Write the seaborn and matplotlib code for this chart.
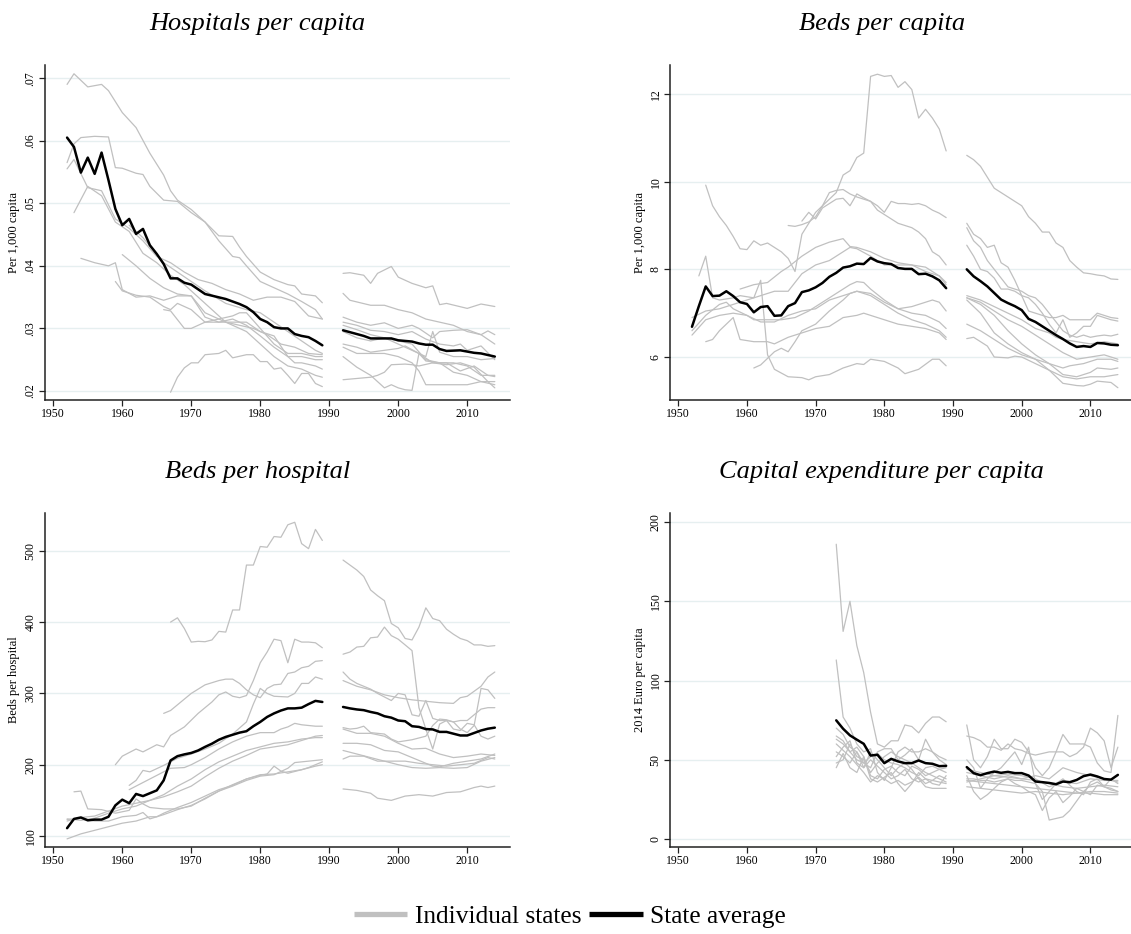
import numpy as np
import pandas as pd
import matplotlib
matplotlib.use("Agg")
import matplotlib.pyplot as plt
from matplotlib.lines import Line2D
import seaborn as sns

# ---------------- DATA ----------------
TITLES = ["Hospitals per capita", "Beds per capita", "Beds per hospital", "Capital expenditure per capita"]
YLABELS = ["Per 1,000 capita", "Per 1,000 capita", "Beds per hospital", "2014 Euro per capita"]
XTICKS = [1950, 1960, 1970, 1980, 1990, 2000, 2010]
YTICKS_HPC = [0.02, 0.03, 0.04, 0.05, 0.06, 0.07]
YTICKLABELS_HPC = [".02", ".03", ".04", ".05", ".06", ".07"]
YTICKS_BPC = [6, 8, 10, 12]
YTICKS_BPH = [100, 200, 300, 400, 500]
YTICKS_CAP = [0, 50, 100, 150, 200]

# Panel 1: Hospitals per capita -- state average
HPC_AVG_Y1 = [1952,1953,1954,1955,1956,1957,1958,1959,1960,1961,1962,1963,1964,1965,1966,1967,1968,1969,1970,1972,1975,1977,1978,1979,1980,1981,1982,1983,1984,1985,1986,1987,1988,1989]
HPC_AVG_V1 = [.0605,.059,.0549,.0573,.0547,.0581,.0537,.0491,.0465,.0475,.0451,.0459,.0433,.0419,.0403,.038,.038,.0373,.037,.0355,.0347,.0339,.0334,.0326,.0315,.031,.0302,.030,.030,.0291,.0288,.0286,.028,.0273]
HPC_AVG_Y2 = [1992,1995,1996,1999,2000,2002,2003,2004,2005,2006,2007,2009,2010,2011,2012,2014]
HPC_AVG_V2 = [.0297,.0288,.0284,.0284,.0281,.0279,.0276,.0274,.0274,.0267,.0264,.0265,.0263,.0261,.026,.0255]

# Panel 1: individual states (years, values)
HPC_STATES = [
    ([1952,1953,1955,1957,1958,1960,1962,1964,1966,1967,1968,1970,1972,1974,1976,1977,1978,1980,1982,1984,1985,1986,1988,1989],
     [.069,.0707,.0686,.069,.068,.0645,.0621,.058,.0545,.052,.0505,.049,.047,.0448,.0447,.043,.0415,.039,.0378,.037,.0368,.0355,.0352,.0341]),
    ([1952,1953,1954,1956,1958,1959,1960,1962,1963,1964,1966,1968,1970,1972,1974,1976,1977,1978,1980,1982,1984,1986,1988,1989],
     [.0565,.0595,.0605,.0607,.0606,.0557,.0556,.0548,.0546,.0527,.0505,.0503,.0485,.047,.044,.0415,.0413,.040,.0375,.0365,.0355,.0343,.033,.0315]),
    ([1952,1953,1955,1957,1959,1961,1963,1965,1967,1969,1971,1973,1975,1977,1979,1981,1983,1985,1987,1989],
     [.0555,.057,.0525,.052,.0475,.046,.044,.0415,.0405,.039,.0378,.0372,.0362,.0355,.0345,.035,.035,.0343,.032,.0315]),
    ([1953,1955,1957,1959,1961,1963,1965,1967,1969,1971,1973,1975,1977,1979,1981,1983,1985,1987,1989],
     [.0485,.0527,.0512,.047,.0455,.042,.0405,.0385,.037,.035,.033,.031,.0305,.030,.029,.0275,.027,.026,.0258]),
    ([1954,1956,1958,1959,1960,1962,1964,1966,1968,1970,1972,1974,1976,1978,1980,1982,1984,1986,1988,1989],
     [.0412,.0405,.040,.0405,.0362,.035,.0352,.0345,.0352,.0352,.0318,.031,.031,.031,.0295,.0288,.0255,.0255,.025,.025]),
    ([1959,1960,1962,1964,1966,1967,1968,1970,1972,1974,1976,1977,1978,1980,1982,1984,1986,1988,1989],
     [.0375,.036,.0353,.035,.0335,.033,.034,.033,.031,.0315,.032,.0325,.0325,.030,.0275,.026,.026,.0255,.0255]),
    ([1960,1962,1964,1966,1968,1970,1972,1974,1976,1978,1980,1982,1984,1986,1988,1989],
     [.0418,.040,.038,.0365,.0355,.0352,.0325,.0315,.0305,.0295,.0275,.0255,.024,.0235,.0225,.0222]),
    ([1966,1967,1969,1970,1972,1974,1976,1978,1980,1982,1984,1985,1986,1988,1989],
     [.033,.0328,.030,.030,.031,.031,.0315,.0305,.0288,.027,.0255,.0245,.0245,.024,.0235]),
    ([1967,1968,1969,1970,1971,1972,1974,1975,1976,1978,1979,1980,1981,1982,1983,1984,1985,1986,1987,1988,1989],
     [.0198,.0222,.0237,.0245,.0245,.0258,.026,.0265,.0253,.0258,.0258,.0247,.0247,.0235,.0237,.0225,.0212,.0228,.0228,.0212,.0207]),
    ([1961,1963,1966,1968,1970,1972,1975,1978,1980,1982,1984,1986,1988,1989],
     [.0465,.0445,.0405,.039,.0375,.036,.034,.033,.0325,.031,.0295,.028,.0265,.026]),
    ([1992,1993,1995,1996,1997,1999,2000,2002,2004,2005,2006,2007,2010,2012,2014],
     [.0388,.0389,.0385,.0372,.0388,.0399,.0382,.0372,.0365,.0368,.0338,.034,.0332,.0339,.0335]),
    ([1992,1993,1996,1998,2000,2002,2004,2006,2008,2010,2012,2014],
     [.0356,.0345,.0337,.0337,.033,.0325,.0315,.031,.0305,.0295,.029,.0275]),
    ([1992,1994,1996,1998,2000,2002,2003,2005,2006,2008,2010,2012,2013,2014],
     [.0318,.031,.0305,.0309,.030,.0305,.030,.0285,.0295,.0297,.0298,.029,.0296,.029]),
    ([1992,1994,1996,1998,2000,2002,2004,2006,2008,2009,2010,2012,2014],
     [.031,.0305,.0297,.0295,.029,.0295,.0283,.0275,.0272,.0275,.0265,.0272,.025]),
    ([1992,1994,1996,1998,2000,2002,2003,2004,2005,2006,2008,2010,2012,2014],
     [.0305,.0298,.029,.0285,.0275,.0265,.026,.0255,.0295,.0262,.0255,.0255,.025,.0252]),
    ([1992,1994,1996,1998,2000,2002,2004,2006,2008,2010,2012,2014],
     [.0295,.0285,.028,.0285,.028,.0275,.025,.0245,.0245,.024,.0225,.0225]),
    ([1992,1994,1996,1998,2000,2001,2003,2005,2007,2009,2011,2013,2014],
     [.0275,.027,.0262,.0265,.0268,.0272,.026,.0245,.0242,.0245,.0238,.0215,.0205]),
    ([1992,1994,1996,1998,2000,2002,2003,2004,2006,2008,2010,2012,2014],
     [.027,.026,.026,.026,.0255,.0245,.0232,.021,.021,.021,.021,.0215,.0215]),
    ([1992,1994,1996,1998,1999,2000,2001,2002,2003,2004,2006,2008,2010,2012,2014],
     [.0255,.0238,.0225,.0205,.021,.0205,.0202,.0201,.026,.0248,.0245,.023,.0225,.0215,.021]),
    ([1992,1994,1996,1997,1998,1999,2001,2002,2003,2005,2007,2009,2011,2013,2014],
     [.0218,.022,.0222,.0225,.023,.0242,.0243,.0242,.024,.0245,.0245,.0232,.024,.0225,.0223]),
]

# Panel 2: Beds per capita
BPC_AVG_Y1 = list(range(1952, 1990))
BPC_AVG_V1 = [6.69,7.16,7.61,7.39,7.40,7.50,7.39,7.25,7.21,7.02,7.14,7.16,6.94,6.95,7.16,7.23,7.48,7.52,7.59,7.69,7.83,7.92,8.04,8.07,8.13,8.12,8.26,8.18,8.14,8.12,8.03,8.01,8.01,7.89,7.90,7.84,7.75,7.57]
BPC_AVG_Y2 = list(range(1992, 2015))
BPC_AVG_V2 = [8.0,7.84,7.73,7.61,7.46,7.31,7.23,7.16,7.07,6.87,6.80,6.70,6.60,6.50,6.41,6.31,6.23,6.25,6.23,6.32,6.31,6.28,6.27]
BPC_STATES = [
    ([1966,1967,1968,1969,1970,1971,1972,1973,1974,1975,1976,1977,1978,1979,1980,1981,1982,1983,1984,1985,1986,1987,1988,1989],
     [9.0,8.98,9.02,9.08,9.2,9.45,9.6,9.75,10.15,10.25,10.55,10.65,12.4,12.45,12.4,12.42,12.15,12.28,12.1,11.45,11.65,11.45,11.2,10.7]),
    ([1954,1955,1956,1957,1958,1959,1960,1961,1962,1963,1964,1965,1966,1967,1968,1969,1970,1971,1972,1973,1974,1975,1976,1977,1978,1979,1980,1981,1982,1983,1984,1985,1986,1987,1988,1989],
     [9.92,9.45,9.2,9.0,8.75,8.47,8.45,8.65,8.55,8.6,8.5,8.4,8.25,7.95,8.8,9.05,9.3,9.45,9.75,9.8,9.82,9.72,9.65,9.6,9.55,9.35,9.25,9.15,9.05,9.0,8.95,8.85,8.7,8.4,8.3,8.1]),
    ([1968,1969,1970,1971,1972,1973,1974,1975,1976,1977,1978,1979,1980,1981,1982,1983,1984,1985,1986,1987,1988,1989],
     [9.1,9.3,9.15,9.4,9.5,9.6,9.62,9.45,9.72,9.63,9.55,9.45,9.3,9.55,9.5,9.5,9.48,9.5,9.45,9.35,9.28,9.18]),
    ([1959,1961,1963,1965,1966,1968,1970,1972,1974,1975,1976,1978,1980,1982,1984,1986,1988,1989],
     [7.55,7.65,7.7,7.95,8.05,8.3,8.5,8.62,8.7,8.52,8.5,8.4,8.25,8.15,8.1,8.05,7.85,7.65]),
    ([1953,1954,1955,1956,1958,1959,1961,1962,1963,1964,1966,1968,1969,1970,1972,1974,1976,1977,1978,1980,1982,1983,1985,1987,1988,1989],
     [7.85,8.3,7.35,7.3,7.35,7.4,7.35,7.75,6.05,5.72,5.55,5.53,5.48,5.55,5.6,5.75,5.85,5.83,5.95,5.9,5.75,5.62,5.72,5.95,5.95,5.8]),
    ([1961,1962,1964,1965,1966,1967,1968,1970,1972,1974,1975,1976,1978,1980,1982,1984,1986,1987,1988,1989],
     [5.75,5.82,6.12,6.2,6.12,6.35,6.6,6.75,7.05,7.3,7.45,7.5,7.45,7.25,7.1,7.15,7.25,7.3,7.25,7.05]),
    ([1952,1954,1956,1958,1960,1961,1963,1965,1967,1969,1971,1973,1975,1976,1977,1978,1980,1982,1984,1986,1988,1989],
     [6.5,6.85,6.95,7.0,6.95,6.85,6.85,6.85,6.9,7.05,7.25,7.45,7.65,7.72,7.7,7.55,7.3,7.1,7.0,6.95,6.8,6.65]),
    ([1952,1954,1956,1957,1958,1960,1962,1964,1966,1968,1970,1972,1974,1976,1978,1980,1982,1984,1986,1988,1989],
     [6.6,6.95,7.2,7.25,7.1,6.95,6.8,6.8,6.95,7.05,7.1,7.3,7.4,7.5,7.4,7.2,7.0,6.85,6.75,6.6,6.45]),
    ([1954,1955,1956,1958,1959,1961,1963,1964,1966,1968,1970,1972,1974,1976,1977,1978,1980,1982,1984,1986,1988,1989],
     [6.35,6.4,6.6,6.9,6.4,6.35,6.35,6.3,6.45,6.55,6.65,6.7,6.9,6.95,7.0,6.95,6.85,6.75,6.7,6.65,6.55,6.4]),
    ([1952,1954,1956,1958,1960,1962,1964,1966,1968,1970,1972,1974,1975,1976,1978,1979,1980,1982,1984,1986,1988,1989],
     [6.9,7.05,7.1,7.2,7.3,7.4,7.5,7.5,7.9,8.1,8.2,8.4,8.5,8.47,8.3,8.2,8.1,8.1,8.1,7.95,7.85,7.7]),
    ([1992,1993,1994,1995,1996,1997,1998,1999,2000,2001,2002,2003,2004,2005,2006,2007,2008,2009,2010,2011,2012,2013,2014],
     [10.6,10.5,10.35,10.1,9.85,9.75,9.65,9.55,9.45,9.2,9.05,8.85,8.85,8.6,8.5,8.2,8.05,7.92,7.9,7.87,7.85,7.78,7.77]),
    ([1992,1993,1994,1995,1996,1997,1998,1999,2000,2001,2002,2003,2004,2005,2006,2007,2008,2009,2010,2011,2012,2013,2014],
     [9.05,8.8,8.7,8.5,8.55,8.15,8.05,7.75,7.4,7.05,7.0,6.95,6.9,6.9,6.95,6.85,6.85,6.85,6.85,7.0,6.95,6.9,6.88]),
    ([1992,1993,1994,1995,1996,1997,1998,1999,2000,2001,2002,2003,2004,2005,2006,2007,2008,2009,2010,2011,2012,2013,2014],
     [8.55,8.3,8.0,7.95,7.8,7.55,7.55,7.5,7.4,7.35,7.2,7.0,6.75,6.55,6.85,6.45,6.55,6.7,6.7,6.95,6.9,6.85,6.82]),
    ([1992,1993,1994,1995,1996,1997,1998,1999,2000,2001,2002,2003,2004,2005,2006,2007,2008,2009,2010,2011,2012,2013,2014],
     [8.95,8.65,8.5,8.2,8.0,7.8,7.6,7.55,7.5,7.4,7.35,7.2,7.0,6.8,6.6,6.5,6.45,6.5,6.45,6.48,6.5,6.48,6.52]),
    ([1992,1994,1996,1998,2000,2002,2004,2005,2006,2008,2010,2012,2014],
     [7.4,7.3,7.15,7.0,6.85,6.65,6.55,6.45,6.4,6.35,6.3,6.35,6.3]),
    ([1992,1994,1996,1998,2000,2002,2004,2006,2008,2010,2012,2014],
     [7.35,7.25,7.05,6.85,6.7,6.5,6.3,6.1,5.95,6.0,6.05,5.95]),
    ([1992,1994,1996,1998,2000,2002,2004,2006,2007,2009,2011,2013,2014],
     [7.3,7.0,6.55,6.3,6.1,5.95,5.85,5.75,5.8,5.85,5.95,5.95,5.9]),
    ([1992,1994,1996,1998,2000,2002,2004,2006,2008,2009,2010,2011,2013,2014],
     [6.75,6.6,6.4,6.2,6.05,5.95,5.7,5.4,5.35,5.34,5.38,5.45,5.42,5.3]),
    ([1992,1993,1995,1996,1998,1999,2000,2002,2004,2006,2008,2010,2012,2014],
     [6.42,6.45,6.25,6.0,5.98,6.02,6.0,5.85,5.7,5.55,5.5,5.55,5.55,5.6]),
    ([1992,1994,1996,1998,2000,2002,2004,2006,2008,2010,2011,2013,2014],
     [7.35,7.2,6.95,6.6,6.3,6.05,5.85,5.6,5.55,5.65,5.75,5.72,5.75]),
]

# Panel 3: Beds per hospital
BPH_AVG_Y1 = list(range(1952, 1990))
BPH_AVG_V1 = [111,124,126,122,123,123,127,143,151,146,159,156,160,164,178,206,212,214.5,216.5,220,225,229.5,235,239,242,245,247,254,260,267,272,276,279,279,280,285,289.5,288]
BPH_AVG_Y2 = list(range(1992, 2015))
BPH_AVG_V2 = [281,279,277.5,276.5,274,272,268,266,262,261,254,253,250,249.5,246,246,243.5,241,241,244.5,248,250.5,252]
BPH_STATES = [
    ([1967,1968,1969,1970,1971,1972,1973,1974,1975,1976,1977,1978,1979,1980,1981,1982,1983,1984,1985,1986,1987,1988,1989],
     [400,406,391,372,373,372.5,375,387,386,417,417,480,480,506,505,520,519,536.5,540,510,503,530,514.5]),
    ([1966,1967,1968,1970,1972,1974,1975,1976,1977,1978,1979,1980,1981,1982,1983,1984,1985,1986,1987,1988,1989],
     [272,276,284,300,312,318,320,320,314,305,298,294,307,312,313,328,330,336,338,345,346]),
    ([1959,1960,1962,1963,1965,1966,1967,1969,1971,1973,1974,1975,1976,1977,1978,1979,1980,1981,1982,1983,1984,1985,1986,1987,1988,1989],
     [200,212,222,218,228,225,241,253,272,288,298,302,296,294,297,318,343,358,376,374,343,376,372,372,371,364]),
    ([1961,1962,1963,1964,1966,1968,1970,1972,1974,1976,1978,1979,1980,1981,1982,1984,1985,1986,1987,1988,1989],
     [171,178,192,190,199,209,215,222,230,243,260,285,307,300,296,295,300,314,314,323,320]),
    ([1961,1963,1965,1967,1969,1970,1972,1974,1976,1978,1980,1982,1983,1984,1985,1986,1988,1989],
     [165,175,185,195,196,200,210,222,232,240,245,245,250,253,258,256,254,254]),
    ([1952,1954,1956,1958,1960,1962,1964,1966,1968,1970,1972,1974,1976,1978,1980,1982,1984,1986,1988,1989],
     [124,122,125,132,138,142,150,158,170,180,193,204,212,220,225,230,232,236,238,238]),
    ([1952,1954,1956,1958,1960,1962,1964,1966,1968,1970,1972,1974,1976,1978,1980,1982,1984,1986,1988,1989],
     [121,126,128,135,142,146,150,155,162,170,183,195,205,213,222,225,228,234,240,241]),
    ([1953,1954,1955,1957,1959,1961,1962,1963,1964,1966,1968,1970,1972,1974,1976,1978,1980,1981,1982,1983,1984,1986,1987,1988,1989],
     [162,163,138,137,132,136,152,145,140,138,138,142,153,163,172,180,185,187,198,191,188,193,196,200,204]),
    ([1952,1954,1956,1958,1960,1962,1964,1965,1966,1968,1970,1972,1974,1976,1978,1980,1982,1984,1986,1988,1989],
     [96,103,108,113,118,121,127,127,132,140,147,156,165,171,180,186,187,190,193,198,200]),
    ([1952,1954,1956,1958,1960,1962,1963,1964,1966,1968,1970,1972,1974,1976,1978,1980,1982,1984,1985,1986,1988,1989],
     [123,125,121,121,127,129,133,124,130,137,143,152,163,170,178,184,186,195,203,204,206,207]),
    ([1992,1993,1994,1995,1996,1997,1998,1999,2000,2001,2002,2003,2004,2005,2006,2007,2008,2009,2010,2011,2012,2013,2014],
     [487,480,473,464,445,437,430,398,392,377,375,393,420,405,402,390,383,377,374,368,368,366,367]),
    ([1992,1993,1994,1995,1996,1997,1998,1999,2000,2001,2002,2003,2004,2005,2006,2007,2008,2009,2010,2011,2012,2013,2014],
     [355,358,365,366,378,379,393,381,376,368,360,280,250,222,257,262,250,248,258,256,240,236,240]),
    ([1992,1993,1994,1995,1996,1997,1998,1999,2000,2001,2002,2003,2004,2005,2006,2007,2008,2009,2010,2011,2012,2013,2014],
     [330,320,314,310,306,300,295,290,300,298,270,268,290,265,262,262,260,262,262,270,278,280,280]),
    ([1992,1994,1996,1998,2000,2002,2004,2006,2008,2009,2010,2011,2012,2013,2014],
     [318,310,305,298,294,291,289,287,286,294,296,303,310,323,330]),
    ([1992,1993,1994,1995,1996,1998,1999,2000,2002,2004,2005,2006,2007,2008,2009,2010,2011,2012,2013,2014],
     [252,250,251,254,245,243,236,232,235,240,255,264,263,260,250,245,255,307,305,293]),
    ([1992,1994,1996,1998,2000,2002,2004,2006,2008,2010,2012,2014],
     [250,244,244,240,230,222,223,215,210,212,215,213]),
    ([1992,1994,1996,1998,2000,2002,2004,2005,2006,2008,2010,2012,2014],
     [230,230,228,220,218,210,202,198,197,202,205,208,215]),
    ([1992,1994,1996,1998,2000,2002,2004,2006,2008,2010,2012,2014],
     [220,215,210,205,200,196,195,196,195,196,205,210]),
    ([1992,1993,1995,1997,1999,2001,2003,2005,2007,2009,2011,2013,2014],
     [208,212,212,205,205,205,202,200,198,200,202,210,208]),
    ([1992,1994,1996,1997,1999,2001,2003,2005,2007,2009,2011,2012,2013,2014],
     [166,164,160,153,150,156,158,156,161,162,168,170,168,170]),
]

# Panel 4: Capital expenditure per capita
CAP_AVG_Y1 = list(range(1973, 1990))
CAP_AVG_V1 = [74.9,69.6,65.4,62.7,60.1,52.7,53.2,47.9,50.6,49.0,47.9,47.9,49.6,47.9,47.5,46.0,46.2]
CAP_AVG_Y2 = list(range(1992, 2015))
CAP_AVG_V2 = [45.4,41.6,40.3,41.6,42.6,41.8,42.4,41.6,41.6,40.1,36.3,35.9,35.4,34.6,36.3,35.9,37.3,39.7,40.7,39.5,37.9,37.5,40.5]
CAP_YEARS_1 = list(range(1973, 1990))
CAP_YEARS_2 = list(range(1992, 2015))
CAP_YEARS_2B = list(range(1992, 2015, 2))
CAP_STATES = [
    (CAP_YEARS_1, [186,131,150,122,105,80,60,58,62,62,72,71,67,73,77,77,74]),
    (CAP_YEARS_1, [113,77,70,60,55,57,42,37,45,55,58,55,55,57,55,52,50]),
    (CAP_YEARS_1, [70,66,58,55,48,45,55,57,57,50,53,57,50,63,55,50,47]),
    (CAP_YEARS_1, [63,60,55,58,52,38,36,39,42,35,30,35,42,38,37,40,38]),
    (CAP_YEARS_1, [55,52,48,55,45,55,50,45,40,45,48,44,38,33,32,32,32]),
    (CAP_YEARS_1, [48,50,60,52,50,42,48,52,55,52,50,48,45,42,40,38,36]),
    (CAP_YEARS_1, [52,58,62,48,45,50,46,42,38,40,44,38,36,38,35,34,40]),
    (CAP_YEARS_1, [45,54,45,42,52,40,38,44,46,42,40,46,44,40,42,44,42]),
    (CAP_YEARS_1, [65,62,55,50,48,52,54,50,48,47,45,42,40,45,46,44,45]),
    (CAP_YEARS_1, [60,56,52,47,42,36,40,38,35,37,34,36,39,35,37,36,35]),
    (CAP_YEARS_2, [72,50,45,52,63,57,57,63,61,55,45,40,45,55,66,60,60,60,58,48,43,42,78]),
    (CAP_YEARS_2, [65,64,62,58,58,56,60,57,56,54,53,54,55,55,55,52,54,58,70,67,62,45,58]),
    (CAP_YEARS_2, [50,45,32,38,42,45,50,55,47,58,35,25,30,35,38,34,30,28,36,38,33,38,35]),
    (CAP_YEARS_2, [40,30,25,28,32,36,38,35,33,30,28,18,26,30,23,27,32,30,28,34,33,32,30]),
    (CAP_YEARS_2, [38,38,37,37,36,37,38,37,37,36,35,30,12,13,14,18,24,30,34,36,33,31,30]),
    (CAP_YEARS_2B, [37,36,35,34,33,32,31,30,29,29,28,28]),
    (CAP_YEARS_2B, [36,38,40,39,38,37,35,33,32,33,34,33]),
    (CAP_YEARS_2B, [33,32,31,30,29,30,29,28,29,30,30,29]),
    (CAP_YEARS_2B, [42,40,38,40,38,40,38,45,42,40,38,36]),
    (CAP_YEARS_2B, [44,42,40,41,40,38,33,36,35,38,37,37]),
]

# ---------------- STYLE ----------------
GRAY = "#c0c0c0"
BLACK = "#000000"
GRID = "#e6eff0"

sns.set_theme(style="white")
plt.rcParams["font.family"] = ["Liberation Serif", "DejaVu Serif"]
plt.rcParams["text.color"] = "black"
plt.rcParams["axes.labelcolor"] = "black"
plt.rcParams["xtick.color"] = "black"
plt.rcParams["ytick.color"] = "black"
plt.rcParams["axes.edgecolor"] = "#222222"


def build_frames(states, avg_parts):
    rows = []
    for i, (yrs, vals) in enumerate(states):
        for y, v in zip(yrs, vals):
            rows.append({"year": y, "value": v, "uid": f"s{i}"})
    gray_df = pd.DataFrame(rows)
    rows = []
    for j, (yrs, vals) in enumerate(avg_parts):
        for y, v in zip(yrs, vals):
            rows.append({"year": y, "value": v, "uid": f"a{j}"})
    avg_df = pd.DataFrame(rows)
    return gray_df, avg_df


panels = [
    (HPC_STATES, [(HPC_AVG_Y1, HPC_AVG_V1), (HPC_AVG_Y2, HPC_AVG_V2)], (0.01856, 0.0721), YTICKS_HPC, YTICKLABELS_HPC),
    (BPC_STATES, [(BPC_AVG_Y1, BPC_AVG_V1), (BPC_AVG_Y2, BPC_AVG_V2)], (5.02, 12.66), YTICKS_BPC, [str(t) for t in YTICKS_BPC]),
    (BPH_STATES, [(BPH_AVG_Y1, BPH_AVG_V1), (BPH_AVG_Y2, BPH_AVG_V2)], (84.6, 553), YTICKS_BPH, [str(t) for t in YTICKS_BPH]),
    (CAP_STATES, [(CAP_AVG_Y1, CAP_AVG_V1), (CAP_AVG_Y2, CAP_AVG_V2)], (-5.0, 205.7), YTICKS_CAP, [str(t) for t in YTICKS_CAP]),
]

W, H = 1131, 934
fig = plt.figure(figsize=(W / 100, H / 100), dpi=100)
positions = [
    (45 / W, 1 - 400 / H, 465 / W, 335 / H),
    (670 / W, 1 - 400 / H, 463 / W, 335 / H),
    (45 / W, 1 - 847 / H, 465 / W, 334 / H),
    (670 / W, 1 - 847 / H, 463 / W, 334 / H),
]

for k, (states, avg_parts, ylim, yticks, yticklabels) in enumerate(panels):
    ax = fig.add_axes(positions[k])
    gray_df, avg_df = build_frames(states, avg_parts)
    for t in yticks:
        ax.axhline(t, color=GRID, lw=1.0, zorder=0)
    sns.lineplot(data=gray_df, x="year", y="value", units="uid", estimator=None,
                 color=GRAY, lw=0.9, ax=ax, legend=False, sort=True)
    sns.lineplot(data=avg_df, x="year", y="value", units="uid", estimator=None,
                 color=BLACK, lw=1.8, ax=ax, legend=False, sort=True)
    ax.set_xlim(1948.8, 2016.2)
    ax.set_ylim(*ylim)
    ax.set_xticks(XTICKS)
    ax.set_xticklabels([str(x) for x in XTICKS], fontsize=8.5)
    ax.set_yticks(yticks)
    ax.set_yticklabels(yticklabels, fontsize=8.5, rotation=90, va="center")
    ax.set_xlabel("")
    ax.set_ylabel(YLABELS[k], fontsize=9, labelpad=3)
    ax.grid(False)
    for side in ["top", "right"]:
        ax.spines[side].set_visible(False)
    for side in ["left", "bottom"]:
        ax.spines[side].set_linewidth(1.1)
        ax.spines[side].set_color("#222222")
    ax.tick_params(axis="both", direction="out", length=4, width=0.9, colors="#222222",
                   labelcolor="black", pad=2, left=True, bottom=True)
    ax.set_title(TITLES[k], fontsize=19, style="italic", x=0.457, pad=25, color="black")

handles = [Line2D([0], [0], color=GRAY, lw=3.8, solid_capstyle="butt"),
           Line2D([0], [0], color=BLACK, lw=3.8, solid_capstyle="butt")]
fig.legend(handles, ["Individual states", "State average"], loc="center",
           bbox_to_anchor=(0.504, 1 - 917 / H), ncol=2, frameon=False, fontsize=18.3,
           handlelength=2.1, handletextpad=0.3, columnspacing=0.3, labelcolor="black")

fig.savefig("out.png", dpi=100)
